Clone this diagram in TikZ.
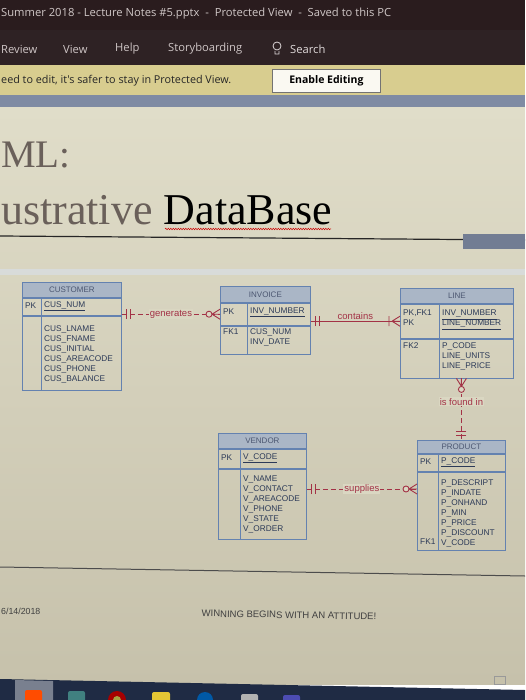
\documentclass[tikz,border=0pt]{standalone}
\usepackage{fontspec}
\setmainfont{Liberation Serif}
\setsansfont{Liberation Sans}
\newfontfamily\uifont{Open Sans}
\usetikzlibrary{positioning,decorations.pathmorphing}

\definecolor{barbg}{HTML}{2A1C1E}
\definecolor{ribbonbg}{HTML}{2E2224}
\definecolor{bartext}{HTML}{CFC6C6}
\definecolor{warnbg}{HTML}{D8CD8F}
\definecolor{edgeblue}{HTML}{7F8BA3}
\definecolor{slidetop}{HTML}{E0DDC9}
\definecolor{slidebot}{HTML}{C6C1AB}
\definecolor{slidebg}{HTML}{DAD7C2}
\definecolor{titlegray}{HTML}{6A605A}
\definecolor{tblblue}{HTML}{6482B0}
\definecolor{tblhead}{HTML}{AAB6C6}
\definecolor{tbltext}{HTML}{2C3A58}
\definecolor{relred}{HTML}{A33246}
\definecolor{taskbg}{HTML}{1F2B44}

\tikzset{
  tblbox/.style={draw=tblblue, line width=0.8pt, inner sep=0pt},
  tblhead/.style={tblbox, fill=tblhead, text=tbltext!85,
    font=\sffamily\fontsize{8}{9}\selectfont},
  tbltxt/.style={anchor=west, inner sep=0pt, text=tbltext, align=left,
    font=\sffamily\fontsize{8.3}{10}\selectfont},
  relline/.style={draw=relred, line width=0.9pt},
  rellabel/.style={text=relred, inner sep=1pt,
    font=\sffamily\fontsize{9.5}{10}\selectfont},
  uitext/.style={anchor=west, inner sep=0pt, text=bartext,
    font=\uifont\fontsize{11.2}{13}\selectfont},
  pics/onlyone/.style={code={
    \draw[relline] (-5,-5) -- (-5,5) (-9,-5) -- (-9,5);}},
  pics/zeromany/.style={code={
    \draw[relline] (-8,0) -- (0,-5) (-8,0) -- (0,0) (-8,0) -- (0,5);
    \draw[relline, fill=slidebg] (-11,0) circle (3);}},
  pics/onemany/.style={code={
    \draw[relline] (-8,0) -- (0,-5) (-8,0) -- (0,0) (-8,0) -- (0,5)
      (-11,-5) -- (-11,5);}}
}

\begin{document}
\begin{tikzpicture}[x=1pt,y=-1pt]
    \useasboundingbox (0,0) rectangle (525,700);
    \clip (0,0) rectangle (525,700);

    % Window title bar and ribbon
    \fill[barbg] (0,0) rectangle (525,30);
    \node[uitext] (docTitle) at (1,14) {Summer 2018 - Lecture Notes \#5.pptx \ - \ Protected View \ - \ Saved to this PC};
    \fill[ribbonbg] (0,30) rectangle (525,65);
    \node[uitext] (tabReview) at (1,49) {Review};
    \node[uitext] (tabView) at (63,49) {View};
    \node[uitext] (tabHelp) at (115,49) {Help};
    \node[uitext] (tabStory) at (168,49) {Storyboarding};
    \draw[bartext!70, line width=0.8pt] (277,46) circle (4) (275,51) -- (275,54) -- (279,54) -- (279,51);
    \node[uitext, text=bartext!65] (tabSearch) at (290,49) {Search};

    % Protected view bar
    \fill[warnbg] (0,65) rectangle (525,95);
    \node[uitext, text=black!85, font=\uifont\fontsize{10.8}{12}\selectfont] (warnMsg) at (1,81) {eed to edit, it's safer to stay in Protected View.};
    \node[draw=black!55, fill=white!88!warnbg, line width=0.8pt, anchor=north west,
      minimum width=108, minimum height=23, inner sep=0pt,
      font=\uifont\fontsize{10.5}{12}\selectfont\bfseries] (enableBtn) at (272,69) {Enable Editing};
    \fill[edgeblue] (0,95) rectangle (525,108);

    % Slide
    \shade[top color=slidetop, bottom color=slidebot] (0,108) rectangle (525,684);
    \node[anchor=base west, inner sep=0pt, text=titlegray,
      font=\fontsize{39}{40}\selectfont] (titleA) at (1,168) {ML:};
    \node[anchor=base west, inner sep=0pt,
      font=\fontsize{44}{48}\selectfont] (titleB) at (1,225) {\textcolor{titlegray}{ustrative} DataBase};
    \draw[red!80!black, line width=0.5pt, decorate,
      decoration={snake, amplitude=0.7pt, segment length=2.5pt}] (165,229) -- (331,229);
    \draw[black!85, line width=1.2pt] (0,236) -- (525,240);
    \fill[edgeblue!90!black] (463,234) rectangle (525,249);
    \fill[tblblue!25, opacity=0.6] (0,269) rectangle (525,275);

    % CUSTOMER
    \node[tblhead, anchor=north west, minimum width=99, minimum height=15] (custH) at (22,282) {CUSTOMER};
    \node[tblbox, minimum width=99, minimum height=17, below=0pt of custH] (custK) {};
    \node[tblbox, minimum width=99, minimum height=74, below=0pt of custK] (custB) {};
    \draw[tblblue, line width=0.8pt] ([xshift=19pt]custK.north west) -- ([xshift=19pt]custB.south west);
    \node[tbltxt] (custPK) at (25,306) {PK};
    \node[tbltxt] (custNum) at (44,306) {\underline{CUS\_NUM}};
    \node[tbltxt, anchor=north west] (custAtt) at (44,326) {CUS\_LNAME\\CUS\_FNAME\\CUS\_INITIAL\\CUS\_AREACODE\\CUS\_PHONE\\CUS\_BALANCE};

    % INVOICE
    \node[tblhead, anchor=north west, minimum width=90, minimum height=16] (invH) at (220,286) {INVOICE};
    \node[tblbox, minimum width=90, minimum height=22, below=0pt of invH] (invK) {};
    \node[tblbox, minimum width=90, minimum height=28, below=0pt of invK] (invB) {};
    \draw[tblblue, line width=0.8pt] ([xshift=27pt]invK.north west) -- ([xshift=27pt]invB.south west);
    \node[tbltxt] (invPK) at (223,312) {PK};
    \node[tbltxt] (invNum) at (250,312) {\underline{INV\_NUMBER}};
    \node[tbltxt] (invFK) at (223,332) {FK1};
    \node[tbltxt, anchor=north west] (invAtt) at (250,329) {CUS\_NUM\\INV\_DATE};

    % LINE
    \node[tblhead, anchor=north west, minimum width=113, minimum height=15] (lineH) at (400,288) {LINE};
    \node[tblbox, minimum width=113, minimum height=34, below=0pt of lineH] (lineK) {};
    \node[tblbox, minimum width=113, minimum height=39, below=0pt of lineK] (lineB) {};
    \draw[tblblue, line width=0.8pt] ([xshift=39pt]lineK.north west) -- ([xshift=39pt]lineB.south west);
    \node[tbltxt, anchor=north west] (linePK) at (403,310) {PK,FK1\\PK};
    \node[tbltxt, anchor=north west] (lineNum) at (442,310) {\underline{INV\_NUMBER}\\\underline{LINE\_NUMBER}};
    \node[tbltxt] (lineFK) at (403,346) {FK2};
    \node[tbltxt, anchor=north west] (lineAtt) at (442,343) {P\_CODE\\LINE\_UNITS\\LINE\_PRICE};

    % VENDOR
    \node[tblhead, anchor=north west, minimum width=88, minimum height=15] (venH) at (218,433) {VENDOR};
    \node[tblbox, minimum width=88, minimum height=19, below=0pt of venH] (venK) {};
    \node[tblbox, minimum width=88, minimum height=70, below=0pt of venK] (venB) {};
    \draw[tblblue, line width=0.8pt] ([xshift=22pt]venK.north west) -- ([xshift=22pt]venB.south west);
    \node[tbltxt] (venPK) at (221,458) {PK};
    \node[tbltxt] (venCode) at (243,458) {\underline{V\_CODE}};
    \node[tbltxt, anchor=north west] (venAtt) at (243,476) {V\_NAME\\V\_CONTACT\\V\_AREACODE\\V\_PHONE\\V\_STATE\\V\_ORDER};

    % PRODUCT
    \node[tblhead, anchor=north west, minimum width=88, minimum height=13] (prodH) at (417,440) {PRODUCT};
    \node[tblbox, minimum width=88, minimum height=17, below=0pt of prodH] (prodK) {};
    \node[tblbox, minimum width=88, minimum height=78, below=0pt of prodK] (prodB) {};
    \draw[tblblue, line width=0.8pt] ([xshift=21pt]prodK.north west) -- ([xshift=21pt]prodB.south west);
    \node[tbltxt] (prodPK) at (420,462) {PK};
    \node[tbltxt] (prodCode) at (441,462) {\underline{P\_CODE}};
    \node[tbltxt, anchor=north west] (prodAtt) at (441,479) {P\_DESCRIPT\\P\_INDATE\\P\_ONHAND\\P\_MIN\\P\_PRICE\\P\_DISCOUNT\\V\_CODE};
    \node[tbltxt] (prodFK) at (420,542) {FK1};

    % Relationships
    \draw[relline, dash pattern=on 5pt off 3pt] (invK.west -| custK.east) -- node[rellabel, fill=slidebg] {generates} (invK.west);
    \path (invK.west -| custK.east) pic[rotate=180] {onlyone};
    \path (invK.west) pic {zeromany};

    \draw[relline] (lineK.west -| invK.east) -- node[rellabel, above] {contains} (lineK.west);
    \path (lineK.west -| invK.east) pic[rotate=180] {onlyone};
    \path (lineK.west) pic {onemany};

    \draw[relline, dash pattern=on 5pt off 3pt] (prodH.north |- lineB.south) -- node[rellabel, fill=slidebg, pos=0.38] {is found in} (prodH.north);
    \path (prodH.north |- lineB.south) pic[rotate=90] {zeromany};
    \path (prodH.north) pic[rotate=-90] {onlyone};

    \coordinate (supL) at ([yshift=15pt]venB.east);
    \coordinate (supR) at (supL -| prodB.west);
    \draw[relline, dash pattern=on 5pt off 3pt] (supL) -- node[rellabel, fill=slidebg] {supplies} (supR);
    \path (supL) pic[rotate=180] {onlyone};
    \path (supR) pic {zeromany};

    % Footer
    \draw[black!70, line width=1pt] (0,567) -- (525,576);
    \node[tbltxt, text=black!75, font=\sffamily\fontsize{8.8}{10}\selectfont] (footDate) at (1,611) {6/14/2018};
    \node[inner sep=0pt, text=black!75, rotate=-1, font=\sffamily\fontsize{9.5}{10}\selectfont] (footMotto) at (289,615) {WINNING BEGINS WITH AN ATTITUDE!};
    \draw[black!40, line width=0.6pt] (494,676) rectangle (505,684);

    % Taskbar
    \fill[taskbg] (0,679) -- (525,690) -- (525,700) -- (0,700) -- cycle;
    \fill[taskbg!60!white] (15,680) -- (53,681) -- (53,700) -- (15,700) -- cycle;
    \fill[orange!60!red, rounded corners=2pt] (25,690) rectangle (42,704);
    \fill[teal!50!gray, rounded corners=2pt] (68,691) rectangle (85,704);
    \fill[red!65!black] (117,700) circle (9);
    \fill[yellow!60!black] (117,700) circle (4);
    \fill[yellow!55!brown, rounded corners=2pt] (152,692) rectangle (170,704);
    \fill[teal!70!blue] (205,700) circle (8);
    \fill[gray!60!white, rounded corners=2pt] (241,694) rectangle (258,704);
    \fill[blue!40!gray, rounded corners=2pt] (283,695) rectangle (300,704);
\end{tikzpicture}
\end{document}
